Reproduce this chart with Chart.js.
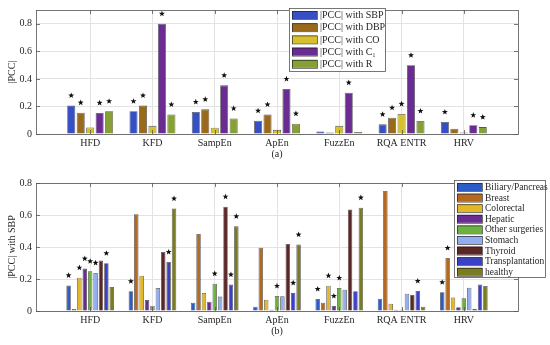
<!DOCTYPE html>
<html>
<head>
<meta charset="utf-8">
<script src="https://cdn.jsdelivr.net/npm/chart.js@4/dist/chart.umd.min.js"></script>
<style>
html, body { margin: 0; padding: 0; background: #fff; }
.panel { position: relative; width: 550px; }
canvas { display: block; }
</style>
</head>
<body>
<div class="panel" style="height:160px"><canvas id="chartA"></canvas></div>
<div class="panel" style="height:185px"><canvas id="chartB"></canvas></div>
<script>
const groups = ["HFD", "KFD", "SampEn", "ApEn", "FuzzEn", "RQA ENTR", "HRV"];
const yTicks = [0, 0.2, 0.4, 0.6, 0.8];

// (a) |PCC| with the haemodynamic parameters
const pccSBP = [0.207, 0.165, 0.160, 0.096, 0.019, 0.070, 0.087];
const pccDBP = [0.155, 0.207, 0.179, 0.141, 0.010, 0.118, 0.038];
const pccCO  = [0.047, 0.059, 0.045, 0.030, 0.059, 0.146, 0.010];
const pccC1  = [0.153, 0.800, 0.353, 0.327, 0.300, 0.499, 0.064];
const pccR   = [0.165, 0.141, 0.113, 0.075, 0.014, 0.094, 0.050];
// significance stars (1 = star)
const sigSBP = [1, 1, 1, 1, 0, 1, 1];
const sigDBP = [1, 1, 1, 1, 0, 1, 0];
const sigCO  = [0, 0, 0, 0, 0, 1, 0];
const sigC1  = [1, 1, 1, 1, 1, 1, 1];
const sigR   = [1, 1, 1, 1, 0, 1, 1];

// (b) |PCC| with SBP per surgery type
const biliary    = [0.160, 0.123, 0.052, 0.027, 0.075, 0.077, 0.117];
const breast     = [0.013, 0.604, 0.481, 0.396, 0.052, 0.750, 0.331];
const colorectal = [0.208, 0.221, 0.113, 0.071, 0.158, 0.046, 0.085];
const hepatic    = [0.265, 0.069, 0.058, 0.008, 0.031, 0.008, 0.023];
const other      = [0.248, 0.033, 0.171, 0.094, 0.144, 0.008, 0.079];
const stomach    = [0.238, 0.144, 0.090, 0.092, 0.133, 0.108, 0.146];
const thyroid    = [0.315, 0.369, 0.652, 0.419, 0.635, 0.100, 0.013];
const transplant = [0.298, 0.306, 0.165, 0.113, 0.123, 0.125, 0.165];
const healthy    = [0.150, 0.640, 0.529, 0.415, 0.646, 0.027, 0.156];

const sigBiliary    = [1, 1, 0, 0, 1, 0, 1];
const sigBreast     = [0, 0, 0, 0, 0, 0, 1];
const sigColorectal = [1, 0, 0, 0, 1, 0, 0];
const sigHepatic    = [1, 0, 0, 0, 1, 0, 0];
const sigOther      = [1, 0, 1, 1, 1, 0, 0];
const sigStomach    = [1, 0, 0, 0, 0, 0, 0];
const sigThyroid    = [0, 0, 1, 0, 0, 0, 0];
const sigTransplant = [1, 1, 1, 1, 0, 1, 0];
const sigHealthy    = [0, 1, 1, 1, 1, 0, 0];

const serif = "'Liberation Serif', 'Times New Roman', serif";
const textCol = "#262626";

function ds(label, values, stars, color) {
    return {
        label: label,
        data: values.map((v, i) => ({ x: i + 1, y: v })),
        stars: stars,
        backgroundColor: color,
        borderColor: "rgba(30,30,30,0.75)",
        borderWidth: 0.8
    };
}

// axes box + inward ticks (MATLAB look)
const framePlugin = {
    id: "frame",
    afterDatasetsDraw(chart) {
        const a = chart.chartArea, c = chart.ctx;
        c.save();
        c.strokeStyle = "#555";
        c.lineWidth = 0.8;
        c.strokeRect(a.left + 0.5, a.top + 0.5, a.right - a.left, a.bottom - a.top);
        c.beginPath();
        chart.scales.y.ticks.forEach(t => {
            const py = Math.round(chart.scales.y.getPixelForValue(t.value)) + 0.5;
            c.moveTo(a.left, py); c.lineTo(a.left + 4, py);
            c.moveTo(a.right, py); c.lineTo(a.right - 4, py);
        });
        chart.scales.x.ticks.forEach(t => {
            const px = Math.round(chart.scales.x.getPixelForValue(t.value)) + 0.5;
            c.moveTo(px, a.bottom); c.lineTo(px, a.bottom - 4);
            c.moveTo(px, a.top); c.lineTo(px, a.top + 4);
        });
        c.stroke();
        c.restore();
    }
};

// black 5-point stars above significant bars
const starPlugin = {
    id: "stars",
    afterDatasetsDraw(chart) {
        const c = chart.ctx;
        c.save();
        c.fillStyle = "#111";
        chart.data.datasets.forEach((d, di) => {
            const meta = chart.getDatasetMeta(di);
            meta.data.forEach((bar, i) => {
                if (!d.stars[i]) return;
                const cx = bar.x, cy = bar.y - 10;
                c.beginPath();
                for (let k = 0; k < 10; k++) {
                    const r = k % 2 ? 1.3 : 3.1;
                    const ang = -Math.PI / 2 + k * Math.PI / 5;
                    const px = cx + r * Math.cos(ang), py = cy + r * Math.sin(ang);
                    k ? c.lineTo(px, py) : c.moveTo(px, py);
                }
                c.closePath();
                c.fill();
            });
        });
        c.restore();
    }
};

// legend box drawn inside the axes
const boxLegend = {
    id: "boxLegend",
    afterDraw(chart, args, o) {
        const c = chart.ctx;
        c.save();
        c.fillStyle = "#fff";
        c.fillRect(o.x, o.y, o.w, o.h);
        c.strokeStyle = "#555";
        c.lineWidth = 0.8;
        c.strokeRect(o.x + 0.5, o.y + 0.5, o.w, o.h);
        c.font = o.size + "px " + serif;
        c.textBaseline = "middle";
        chart.data.datasets.forEach((d, i) => {
            const cy = o.y + o.first + i * o.step;
            c.fillStyle = d.backgroundColor;
            c.fillRect(o.x + 3, cy - 4, 25, 8);
            c.strokeStyle = "rgba(30,30,30,0.8)";
            c.strokeRect(o.x + 3.5, cy - 3.5, 25, 8);
            c.fillStyle = textCol;
            c.fillText(d.label, o.x + 31, cy + 0.5);
        });
        c.restore();
    }
};

function makeOptions(yTitle, xTitle, catPct, barPct, legendOpts, padTop, padBottom, yMax) {
    return {
        responsive: true,
        maintainAspectRatio: false,
        animation: false,
        layout: { padding: { top: padTop, right: 32, bottom: padBottom, left: 0 } },
        datasets: { bar: { categoryPercentage: catPct, barPercentage: barPct } },
        plugins: {
            legend: { display: false },
            tooltip: { enabled: false },
            boxLegend: legendOpts
        },
        scales: {
            x: {
                type: "linear",
                offset: false,
                min: 0.13,
                max: 7.87,
                afterBuildTicks: s => { s.ticks = groups.map((g, i) => ({ value: i + 1 })); },
                afterFit: s => { s.height = 26; },
                ticks: {
                    autoSkip: false,
                    maxRotation: 0,
                    padding: 3,
                    color: textCol,
                    font: { family: serif, size: 10 },
                    callback: v => groups[v - 1]
                },
                grid: { color: "#e3e3e3", drawTicks: false, offset: false },
                border: { display: false },
                title: {
                    display: true,
                    text: xTitle,
                    color: textCol,
                    padding: 0,
                    font: { family: serif, size: 10 }
                }
            },
            y: {
                min: 0,
                max: yMax,
                afterBuildTicks: s => { s.ticks = yTicks.map(v => ({ value: v })); },
                afterFit: s => { s.width = 36; },
                ticks: {
                    padding: 4,
                    color: textCol,
                    font: { family: serif, size: 10 },
                    callback: v => (v === 0 ? "0" : v.toFixed(1))
                },
                grid: { color: "#e3e3e3", drawTicks: false },
                border: { display: false },
                title: {
                    display: true,
                    text: yTitle,
                    color: textCol,
                    padding: { top: 6, bottom: 0 },
                    font: { family: serif, size: 10 }
                }
            }
        }
    };
}

new Chart(document.getElementById("chartA"), {
    type: "bar",
    data: {
        datasets: [
            ds("|PCC| with SBP", pccSBP, sigSBP, "#3650c4"),
            ds("|PCC| with DBP", pccDBP, sigDBP, "#9a6a1c"),
            ds("|PCC| with CO", pccCO, sigCO, "#d6c02c"),
            ds("|PCC| with C\u2081", pccC1, sigC1, "#6a2c92"),
            ds("|PCC| with R", pccR, sigR, "#86a034")
        ]
    },
    options: makeOptions("|PCC|", "(a)", 0.76, 0.85,
        { x: 289, y: 8, w: 96, h: 63, size: 10, first: 7, step: 12.2 }, 7, 0, 0.9),
    plugins: [framePlugin, starPlugin, boxLegend]
});

new Chart(document.getElementById("chartB"), {
    type: "bar",
    data: {
        datasets: [
            ds("Biliary/Pancreas", biliary, sigBiliary, "#2e5cc6"),
            ds("Breast", breast, sigBreast, "#b4691f"),
            ds("Colorectal", colorectal, sigColorectal, "#e2b828"),
            ds("Hepatic", hepatic, sigHepatic, "#6a2c92"),
            ds("Other surgeries", other, sigOther, "#6cb23e"),
            ds("Stomach", stomach, sigStomach, "#92aef0"),
            ds("Thyroid", thyroid, sigThyroid, "#5a2626"),
            ds("Transplantation", transplant, sigTransplant, "#3c40c6"),
            ds("healthy", healthy, sigHealthy, "#7a7c20")
        ]
    },
    options: makeOptions("|PCC| with SBP", "(b)", 0.78, 0.83,
        { x: 454, y: 20, w: 91, h: 97, size: 9.5, first: 7, step: 10.6 }, 23, 8, 0.8),
    plugins: [framePlugin, starPlugin, boxLegend]
});
</script>
</body>
</html>
